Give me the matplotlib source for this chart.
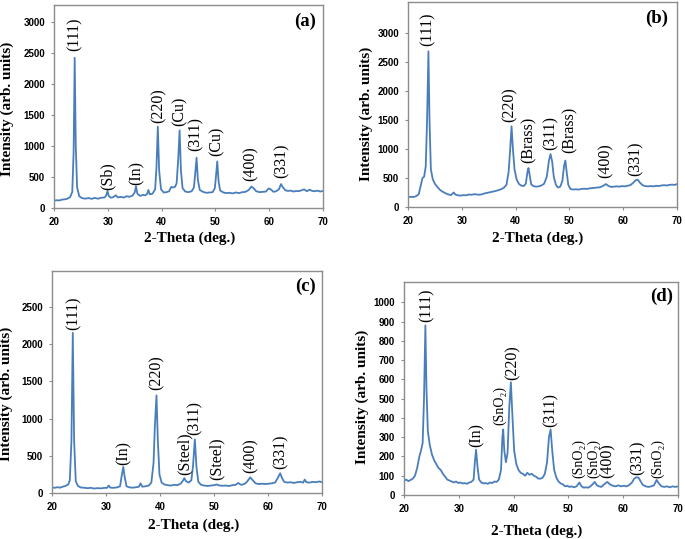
"""
XRD patterns, four panels (a)-(d).
"""
import matplotlib
matplotlib.use("Agg")
import matplotlib.pyplot as plt

# ---- data (2-theta in deg., intensity in arb. units) ----
a_pts = [(20, 118), (20.5, 125), (21, 122), (21.5, 135), (22, 140), (22.5, 150), (23.0, 175),
         (23.4, 260), (23.65, 900), (23.85, 2420), (24.05, 1000), (24.3, 330), (24.7, 190),
         (25.2, 160), (25.8, 150), (26.4, 160), (27, 148), (27.6, 162), (28.2, 150), (28.8, 165),
         (29.4, 170), (29.7, 200), (29.95, 275), (30.2, 190), (30.6, 165), (31.0, 175), (31.5, 205),
         (31.9, 170), (32.4, 180), (33.0, 168), (33.5, 190), (34.0, 180), (34.6, 200), (35.0, 250),
         (35.25, 350), (35.5, 230), (36.0, 195), (36.5, 210), (37.0, 205), (37.3, 225), (37.55, 290),
         (37.8, 220), (38.3, 230), (38.8, 300), (39.05, 650), (39.3, 1310), (39.55, 600), (39.9, 300),
         (40.4, 250), (40.9, 255), (41.4, 270), (41.8, 340), (42.1, 330), (42.5, 340), (42.8, 400),
         (43.1, 800), (43.35, 1250), (43.6, 600), (43.9, 320), (44.4, 265), (45.0, 255), (45.6, 270),
         (46.0, 330), (46.25, 550), (46.5, 810), (46.75, 450), (47.1, 290), (47.7, 260), (48.3, 245),
         (48.9, 250), (49.5, 255), (49.9, 320), (50.1, 500), (50.35, 750), (50.6, 420), (50.9, 280),
         (51.5, 250), (52.0, 240), (52.6, 245), (53.2, 235), (53.8, 250), (54.4, 240), (55.0, 255),
         (55.6, 260), (56.2, 290), (56.7, 345), (57.1, 320), (57.6, 270), (58.2, 255), (58.8, 260),
         (59.4, 265), (59.9, 315), (60.3, 300), (60.8, 260), (61.3, 270), (61.8, 300), (62.2, 385),
         (62.5, 340), (63.0, 285), (63.5, 275), (64.0, 280), (64.5, 265), (65.0, 275), (65.5, 270),
         (66.0, 285), (66.5, 300), (67.0, 270), (67.5, 295), (68.0, 275), (68.5, 270), (69.0, 280),
         (69.5, 265), (70, 275)]

b_pts = [(20, 170), (20.5, 175), (21, 172), (21.5, 185), (22, 220), (22.4, 380), (22.7, 500),
         (23.0, 520), (23.3, 700), (23.55, 1500), (23.8, 2680), (24.0, 1500), (24.25, 650),
         (24.6, 480), (25.0, 400), (25.5, 340), (26, 290), (26.5, 260), (27, 235), (27.5, 215),
         (28, 205), (28.5, 250), (28.8, 215), (29.3, 200), (29.8, 195), (30.3, 205), (30.8, 200),
         (31.3, 215), (31.8, 210), (32.3, 220), (32.8, 215), (33.3, 210), (33.8, 220), (34.3, 235),
         (34.8, 245), (35.3, 255), (35.8, 265), (36.3, 275), (36.8, 290), (37.3, 305), (37.8, 330),
         (38.3, 380), (38.7, 600), (39.0, 1000), (39.25, 1390), (39.5, 1000), (39.8, 650),
         (40.2, 470), (40.6, 400), (41.0, 370), (41.5, 360), (41.9, 400), (42.2, 600), (42.4, 670),
         (42.6, 560), (42.9, 390), (43.3, 360), (43.8, 350), (44.3, 355), (44.8, 370), (45.3, 400),
         (45.8, 520), (46.2, 800), (46.5, 910), (46.8, 780), (47.1, 520), (47.5, 380), (47.9, 335),
         (48.3, 350), (48.7, 450), (49.0, 700), (49.25, 800), (49.5, 600), (49.8, 380), (50.2, 310),
         (50.7, 300), (51.2, 305), (51.7, 300), (52.2, 310), (52.7, 315), (53.2, 310), (53.7, 320),
         (54.2, 325), (54.7, 330), (55.2, 335), (55.7, 340), (56.2, 360), (56.8, 395), (57.3, 360),
         (57.8, 345), (58.3, 350), (58.8, 355), (59.3, 350), (59.8, 360), (60.3, 355), (60.8, 365),
         (61.3, 375), (61.8, 410), (62.3, 460), (62.7, 470), (63.1, 420), (63.6, 375), (64.1, 360),
         (64.6, 355), (65.1, 360), (65.6, 355), (66.1, 365), (66.6, 360), (67.1, 370), (67.6, 375),
         (68.1, 370), (68.6, 380), (69.1, 385), (69.6, 380), (70, 395)]

c_pts = [(20, 75), (20.5, 70), (21, 78), (21.5, 72), (22, 85), (22.5, 95), (23.0, 115), (23.3, 170),
         (23.6, 700), (23.85, 2150), (24.1, 700), (24.4, 160), (24.8, 95), (25.3, 75), (26, 70),
         (26.6, 65), (27.2, 70), (27.8, 60), (28.4, 66), (29, 62), (29.6, 68), (30.2, 70), (30.5, 100),
         (30.8, 72), (31.4, 70), (32.0, 75), (32.6, 90), (32.95, 250), (33.2, 350), (33.45, 220),
         (33.8, 90), (34.4, 75), (35.0, 72), (35.6, 78), (36.1, 85), (36.4, 130), (36.7, 85),
         (37.3, 90), (37.9, 100), (38.4, 140), (38.8, 400), (39.05, 900), (39.35, 1310), (39.6, 700),
         (39.9, 250), (40.3, 140), (40.8, 115), (41.4, 105), (42, 100), (42.6, 110), (43.2, 105),
         (43.8, 125), (44.2, 160), (44.5, 200), (44.8, 160), (45.3, 140), (45.8, 170), (46.1, 350),
         (46.45, 720), (46.75, 350), (47.1, 150), (47.6, 110), (48.2, 100), (48.8, 95), (49.4, 100),
         (50.0, 105), (50.5, 115), (51.0, 100), (51.6, 98), (52.2, 100), (52.8, 95), (53.4, 105),
         (54.0, 110), (54.5, 135), (55.0, 110), (55.6, 120), (56.1, 150), (56.7, 210), (57.2, 170),
         (57.7, 130), (58.3, 120), (58.9, 125), (59.5, 120), (60.1, 125), (60.7, 130), (61.3, 140),
         (61.8, 200), (62.25, 265), (62.6, 200), (63.0, 150), (63.6, 140), (64.2, 145), (64.8, 135),
         (65.4, 145), (66.0, 150), (66.5, 140), (66.8, 180), (67.1, 145), (67.7, 140), (68.3, 150),
         (68.9, 145), (69.5, 155), (70, 145)]

d_pts = [(20, 75), (20.4, 80), (20.8, 72), (21.2, 78), (21.6, 85), (22.0, 100), (22.4, 140),
         (22.8, 200), (23.1, 230), (23.4, 270), (23.65, 500), (23.9, 880), (24.1, 550), (24.35, 330),
         (24.7, 260), (25.1, 210), (25.5, 180), (25.9, 160), (26.3, 140), (26.7, 130), (27.1, 110),
         (27.5, 95), (27.9, 80), (28.3, 75), (28.7, 70), (29.1, 65), (29.5, 70), (29.9, 62),
         (30.3, 65), (30.7, 60), (31.1, 62), (31.5, 58), (31.9, 65), (32.3, 68), (32.7, 80),
         (32.95, 180), (33.15, 235), (33.4, 150), (33.7, 80), (34.1, 65), (34.5, 60), (34.9, 62),
         (35.3, 58), (35.7, 65), (36.1, 62), (36.5, 70), (36.9, 68), (37.3, 80), (37.7, 130),
         (37.95, 300), (38.1, 340), (38.3, 230), (38.6, 170), (38.9, 220), (39.2, 450), (39.5, 585),
         (39.8, 400), (40.1, 230), (40.5, 160), (40.9, 130), (41.3, 115), (41.7, 110), (42.1, 100),
         (42.5, 115), (42.9, 105), (43.3, 110), (43.7, 100), (44.1, 95), (44.5, 85), (44.9, 85),
         (45.3, 90), (45.7, 110), (46.1, 170), (46.45, 300), (46.75, 340), (47.05, 230), (47.4, 130),
         (47.8, 90), (48.2, 70), (48.6, 60), (49.0, 55), (49.4, 45), (49.8, 48), (50.2, 42),
         (50.6, 45), (51.0, 40), (51.5, 45), (52.0, 65), (52.4, 45), (52.8, 38), (53.2, 40),
         (53.6, 38), (54.0, 45), (54.4, 55), (54.8, 68), (55.2, 50), (55.6, 45), (56.0, 42),
         (56.5, 55), (57.1, 68), (57.6, 55), (58.1, 48), (58.6, 45), (59.1, 50), (59.6, 45),
         (60.1, 48), (60.6, 45), (61.1, 52), (61.6, 65), (62.0, 85), (62.4, 92), (62.8, 90),
         (63.2, 70), (63.6, 52), (64.1, 45), (64.6, 42), (65.1, 45), (65.6, 50), (66.1, 78),
         (66.5, 60), (67.0, 45), (67.5, 42), (68, 45), (68.5, 40), (69, 45), (69.5, 42), (70, 45)]

# peak labels: (text, 2-theta, intensity at bottom of label)
a_labels = [("(111)", 23.9, 2530), ("(Sb)", 30.05, 296), ("(In)", 35.3, 366), ("(220)", 39.4, 1371),
            ("(Cu)", 43.3, 1317), ("(311)", 46.4, 914), ("(Cu)", 50.25, 833), ("(400)", 56.5, 430),
            ("(331)", 62.3, 484)]
b_labels = [("(111)", 23.7, 2770), ("(220)", 38.9, 1460), ("(Brass)", 42.4, 759), ("(311)", 46.5, 988),
            ("(Brass)", 50.0, 931), ("(400)", 56.8, 500), ("(331)", 62.4, 540)]
c_labels = [("(111)", 24.0, 2187), ("(In)", 33.2, 379), ("(220)", 39.4, 1384), ("(Steel)", 44.5, 245),
            ("(311)", 46.5, 781), ("(Steel)", 50.4, 178), ("(400)", 56.7, 268), ("(331)", 62.4, 326)]
d_labels = [("(111)", 24.2, 900), ("(In)", 33.2, 251), ("(SnO\u2082)", 37.5, 363), ("(220)", 39.9, 597),
            ("(311)", 46.8, 355), ("(SnO\u2082)", 51.9, 86), ("(SnO\u2082)", 54.6, 86), ("(400)", 57.2, 86),
            ("(331)", 62.6, 104), ("(SnO\u2082)", 66.3, 86)]

x_ticks = [20, 30, 40, 50, 60, 70]

LINE = "#4a7ebb"
FRAME = "#8c8c8c"
SERIF = ["Liberation Serif", "DejaVu Serif"]

panels = [
    # pts, labels, letter, rect, ymax, yticks, xlabel pos, ylabel pos, letter pos
    (a_pts, a_labels, "(a)", [0.0788, 0.6141, 0.3927, 0.3766], 3270, range(0, 3001, 500),
     (0.506, -0.148), (-0.175, 0.49), (0.935, 0.918)),
    (b_pts, b_labels, "(b)", [0.5956, 0.6160, 0.3927, 0.3803], 3530, range(0, 3001, 500),
     (0.483, -0.151), (-0.154, 0.454), (0.924, 0.92)),
    (c_pts, c_labels, "(c)", [0.0759, 0.0853, 0.3942, 0.4119], 2980, range(0, 2501, 500),
     (0.523, -0.144), (-0.168, 0.446), (0.937, 0.929)),
    (d_pts, d_labels, "(d)", [0.5898, 0.0816, 0.4000, 0.3952], 1105, range(0, 1001, 100),
     (0.484, -0.172), (-0.154, 0.461), (0.94, 0.931)),
]

fig = plt.figure(figsize=(6.85, 5.39), dpi=100)

for pts, labels, letter, rect, ymax, yticks, xl, yl, lp in panels:
    ax = fig.add_axes(rect)
    theta = [p[0] for p in pts]
    counts = [p[1] for p in pts]
    ax.plot(theta, counts, color=LINE, lw=1.3, solid_joinstyle="round")

    ax.set_xlim(20, 70)
    ax.set_ylim(0, ymax)
    ax.set_xticks(x_ticks)
    ax.set_yticks(list(yticks))
    for s in ax.spines.values():
        s.set_color(FRAME)
        s.set_linewidth(1.0)
    ax.tick_params(direction="out", length=2.5, width=0.8, color=FRAME, pad=4)
    for t in ax.get_xticklabels() + ax.get_yticklabels():
        t.set_fontfamily("Liberation Sans")
        t.set_fontweight("bold")
        t.set_fontsize(7)

    ax.set_xlabel("2-Theta (deg.)", family=SERIF, fontweight="bold", fontsize=11, va="center")
    ax.xaxis.set_label_coords(*xl)
    ax.set_ylabel("Intensity (arb. units)", family=SERIF, fontweight="bold", fontsize=11, va="center")
    ax.yaxis.set_label_coords(*yl)

    for txt, x, y in labels:
        fs = 10 if "SnO" in txt else 11.5
        ax.text(x, y, txt, rotation=90, ha="center", va="bottom", family=SERIF, fontsize=fs)

    ax.text(lp[0], lp[1], letter, transform=ax.transAxes, ha="center", va="center",
            family=SERIF, fontweight="bold", fontsize=13.5)

fig.savefig("out.png", dpi=100)
